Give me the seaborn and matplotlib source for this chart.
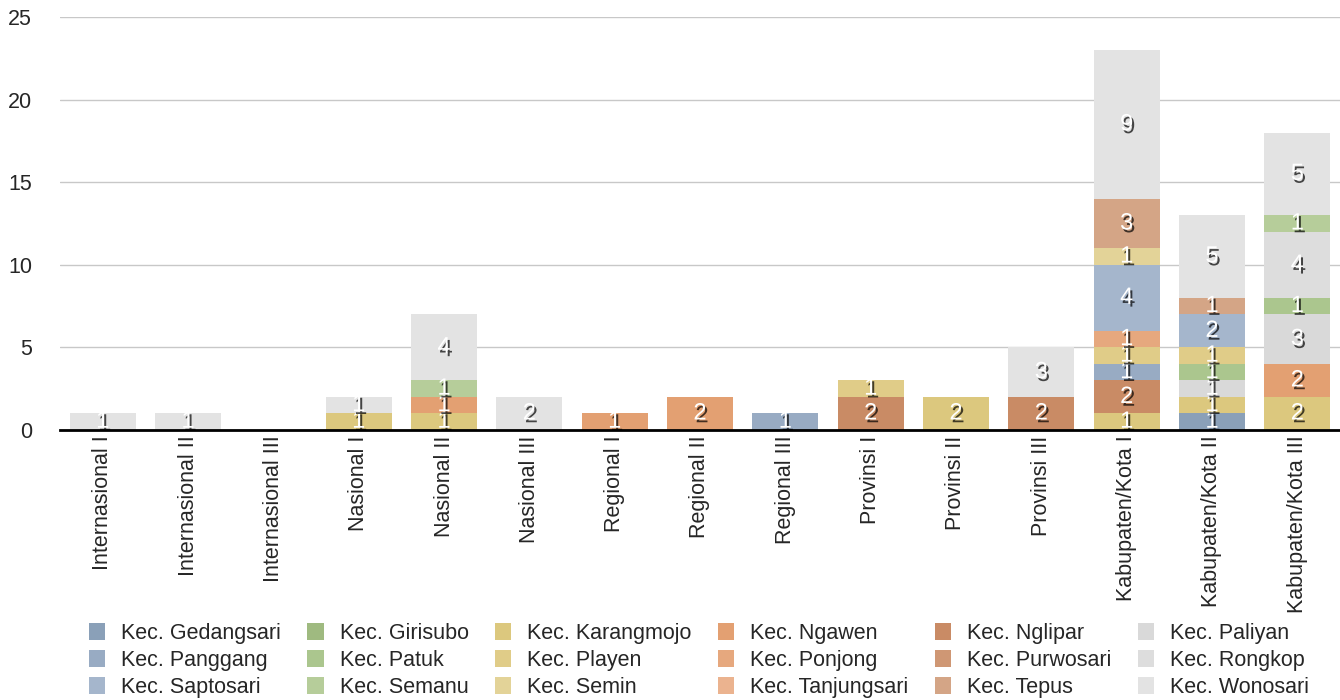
import numpy as np
import matplotlib
matplotlib.use("Agg")
import matplotlib.pyplot as plt
import matplotlib.patheffects as pe
from matplotlib.patches import Patch
import seaborn as sns

# Categories (x axis)
categories = ['Internasional I', 'Internasional II', 'Internasional III',
              'Nasional I', 'Nasional II', 'Nasional III',
              'Regional I', 'Regional II', 'Regional III',
              'Provinsi I', 'Provinsi II', 'Provinsi III',
              'Kabupaten/Kota I', 'Kabupaten/Kota II', 'Kabupaten/Kota III']

# Counts per kecamatan, one value per category
gedangsari  = [0, 0, 0, 0, 0, 0, 0, 0, 0, 0, 0, 0, 0, 1, 0]
girisubo    = [0, 0, 0, 0, 0, 0, 0, 0, 0, 0, 0, 0, 0, 0, 0]
karangmojo  = [0, 0, 0, 1, 1, 0, 0, 0, 0, 0, 2, 0, 1, 1, 2]
ngawen      = [0, 0, 0, 0, 1, 0, 1, 2, 0, 0, 0, 0, 0, 0, 2]
nglipar     = [0, 0, 0, 0, 0, 0, 0, 0, 0, 2, 0, 2, 2, 0, 0]
paliyan     = [0, 0, 0, 0, 0, 0, 0, 0, 0, 0, 0, 0, 0, 1, 3]
panggang    = [0, 0, 0, 0, 0, 0, 0, 0, 1, 0, 0, 0, 1, 0, 0]
patuk       = [0, 0, 0, 0, 0, 0, 0, 0, 0, 0, 0, 0, 0, 1, 1]
playen      = [0, 0, 0, 0, 0, 0, 0, 0, 0, 1, 0, 0, 1, 1, 0]
ponjong     = [0, 0, 0, 0, 0, 0, 0, 0, 0, 0, 0, 0, 1, 0, 0]
purwosari   = [0, 0, 0, 0, 0, 0, 0, 0, 0, 0, 0, 0, 0, 0, 0]
rongkop     = [0, 0, 0, 0, 0, 0, 0, 0, 0, 0, 0, 0, 0, 0, 4]
saptosari   = [0, 0, 0, 0, 0, 0, 0, 0, 0, 0, 0, 0, 4, 2, 0]
semanu      = [0, 0, 0, 0, 1, 0, 0, 0, 0, 0, 0, 0, 0, 0, 1]
semin       = [0, 0, 0, 0, 0, 0, 0, 0, 0, 0, 0, 0, 1, 0, 0]
tanjungsari = [0, 0, 0, 0, 0, 0, 0, 0, 0, 0, 0, 0, 0, 0, 0]
tepus       = [0, 0, 0, 0, 0, 0, 0, 0, 0, 0, 0, 0, 3, 1, 0]
wonosari    = [1, 1, 0, 1, 4, 2, 0, 0, 0, 0, 0, 3, 9, 5, 5]

series = [
    ('Kec. Gedangsari', gedangsari, '#8aa0b8'),
    ('Kec. Girisubo', girisubo, '#9fba80'),
    ('Kec. Karangmojo', karangmojo, '#dcc87e'),
    ('Kec. Ngawen', ngawen, '#e3a072'),
    ('Kec. Nglipar', nglipar, '#c98b65'),
    ('Kec. Paliyan', paliyan, '#d9d9d9'),
    ('Kec. Panggang', panggang, '#98abc3'),
    ('Kec. Patuk', patuk, '#abc68e'),
    ('Kec. Playen', playen, '#e0cc88'),
    ('Kec. Ponjong', ponjong, '#e6a87e'),
    ('Kec. Purwosari', purwosari, '#cf9774'),
    ('Kec. Rongkop', rongkop, '#dddddd'),
    ('Kec. Saptosari', saptosari, '#a5b6cc'),
    ('Kec. Semanu', semanu, '#b6cd9a'),
    ('Kec. Semin', semin, '#e3d398'),
    ('Kec. Tanjungsari', tanjungsari, '#ebb38f'),
    ('Kec. Tepus', tepus, '#d4a586'),
    ('Kec. Wonosari', wonosari, '#e3e3e3'),
]

sns.set_theme(style="white")
plt.rcParams['font.family'] = ['Liberation Sans', 'DejaVu Sans']

fig = plt.figure(figsize=(13.4, 7), dpi=100)
ax = fig.add_axes([60 / 1340, 1 - 430 / 700, 1 - 60 / 1340, 413 / 700])

x = np.arange(len(categories))
bottom = np.zeros(len(categories))
shadow = [pe.withSimplePatchShadow(offset=(1.5, -2), shadow_rgbFace='black', alpha=0.7)]

for name, vals, color in series:
    vals = np.array(vals, dtype=float)
    sns.barplot(x=x, y=vals, bottom=bottom, color=color, width=0.77,
                saturation=1, ax=ax, native_scale=True, linewidth=0)
    for i, v in enumerate(vals):
        if v > 0:
            ax.text(x[i], bottom[i] + v / 2, f"{int(v)}", ha='center', va='center',
                    color='white', fontsize=17, path_effects=shadow, zorder=5)
    bottom += vals

ax.set_xlim(-0.5, len(categories) - 0.5)
ax.set_ylim(0, 25)
ax.set_yticks([0, 5, 10, 15, 20, 25])
ax.set_xticks(x)
ax.set_xticklabels(categories, rotation=90, fontsize=15.5)
ax.tick_params(axis='y', labelsize=15.5, length=0, pad=20)
ax.tick_params(axis='x', length=0, pad=4)
for lab in ax.get_yticklabels():
    lab.set_horizontalalignment('right')
ax.yaxis.grid(True, color='#c8c8c8', linewidth=1)
ax.set_axisbelow(True)
for s in ['top', 'right', 'left']:
    ax.spines[s].set_visible(False)
ax.spines['bottom'].set_color('black')
ax.spines['bottom'].set_linewidth(2)
ax.set_xlabel('')
ax.set_ylabel('')

# Legend laid out row by row across 6 columns
handles = [Patch(facecolor=c, edgecolor='none', label=n) for n, _, c in series]
ncol, nrow = 6, 3
order = [r * ncol + c for c in range(ncol) for r in range(nrow)]
fig.legend([handles[i] for i in order], [handles[i].get_label() for i in order],
           loc='upper left', bbox_to_anchor=(89 / 1340, 1 - 623 / 700), ncol=ncol,
           frameon=False, fontsize=15.5, handlelength=0.75, handleheight=0.85,
           handletextpad=0.75, columnspacing=1.22, labelspacing=0.27, borderpad=0,
           borderaxespad=0)

fig.savefig("out.png", dpi=100)
